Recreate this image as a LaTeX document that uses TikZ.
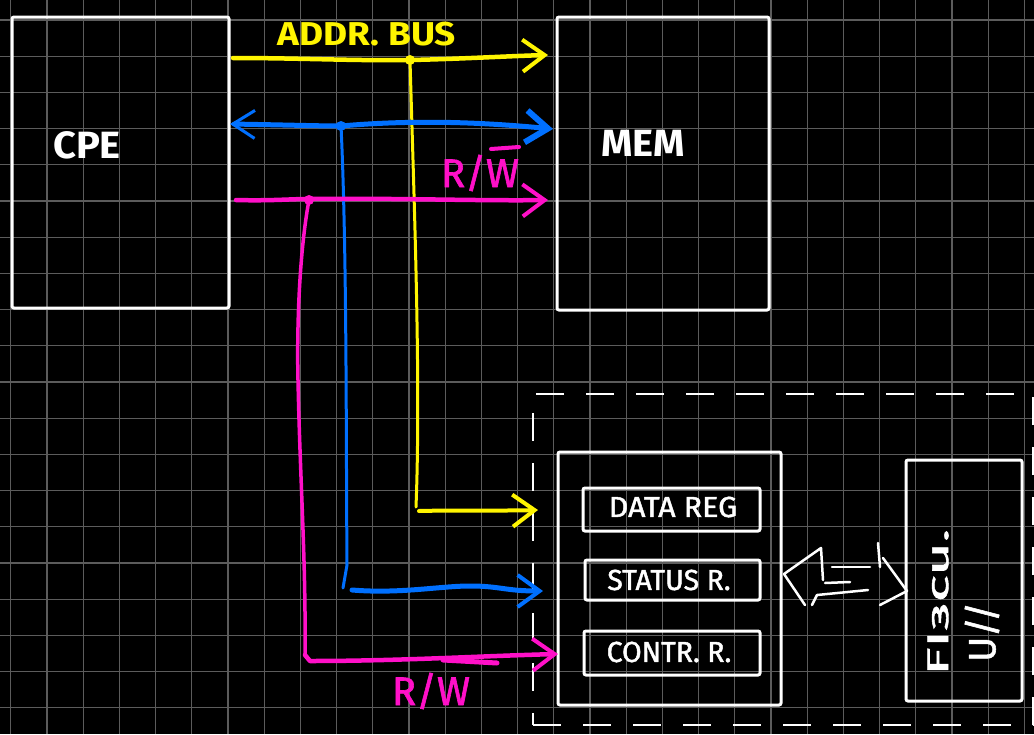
\documentclass[tikz,border=0pt]{standalone}
\usepackage{fontspec}
\setmainfont{Fira Sans}
\usetikzlibrary{arrows.meta,calc}
\definecolor{gridc}{RGB}{92,92,92}
\definecolor{ylw}{RGB}{255,245,0}
\definecolor{blu}{RGB}{0,112,255}
\definecolor{mag}{RGB}{255,16,200}
\tikzset{
  sbox/.style={draw=white,line width=3pt,rounded corners=2pt,inner sep=0pt,outer sep=0pt},
  dashbox/.style={draw=white,line width=2.5pt,dash pattern=on 28pt off 22pt,inner sep=0pt,outer sep=0pt},
  lbl/.style={text=#1,inner sep=0pt},
  lbl/.default=white,
  jdot/.style={circle,fill=#1,inner sep=0pt,minimum size=10pt},
  bus/.style={draw=#1,line cap=round,line join=round},
  chev/.style={-{Straight Barb[length=22pt,width=32pt,line width=4pt]}},
  chevb/.style={{Straight Barb[length=22pt,width=28pt,line width=3pt]}-{Straight Barb[length=22pt,width=32pt,line width=6pt]}},
  wline/.style={draw=white,line width=2.5pt,line cap=round,line join=round},
  gridline/.style={draw=gridc,line width=1.2pt}
}
\begin{document}
\begin{tikzpicture}[x=1pt,y=-1pt]
\fill[black] (0,0) rectangle (1034,734);
\useasboundingbox (0,0) rectangle (1034,734);
% grid
\foreach \i in {0,...,28} \draw[gridline] ({10.7+36.2*\i},0) -- ({10.7+36.2*\i},734);
\foreach \j in {0,...,19} \draw[gridline] (0,{20+36.2*\j}) -- (1034,{20+36.2*\j});

% boxes
\node[sbox,minimum width=217pt,minimum height=291pt] (cpe) at (120.5,162.5) {};
\node[sbox,minimum width=212pt,minimum height=293pt] (mem) at (663,163.5) {};
\node[dashbox,minimum width=500pt,minimum height=331pt] (iface) at (783,559.5) {};
\node[sbox,minimum width=223pt,minimum height=253pt] (ctrl) at (669.5,578.5) {};
\node[sbox,minimum width=177pt,minimum height=43pt] (dreg) at (671.5,509.5) {};
\node[sbox,minimum width=175pt,minimum height=40pt] (sreg) at (672.5,580) {};
\node[sbox,minimum width=176pt,minimum height=44pt] (creg) at (672,653) {};
\node[sbox,minimum width=116pt,minimum height=241pt] (dev) at (964,580.5) {};

% box texts
\node[lbl,font=\fontsize{38}{40}\bfseries] (tcpe) at (87,145) {\scalebox{1.05}[1]{CPE}};
\node[lbl,font=\fontsize{38}{40}\bfseries] (tmem) at (643,143) {\scalebox{1.05}[1]{MEM}};
\node[lbl,font=\fontsize{29}{30}\selectfont\addfontfeature{FakeBold=1.5}] (tdreg) at (673,507) {\scalebox{1.05}[1]{DATA REG}};
\node[lbl,font=\fontsize{29}{30}\selectfont\addfontfeature{FakeBold=1.5}] (tsreg) at (669,580) {\scalebox{0.98}[1]{STATUS R.}};
\node[lbl,font=\fontsize{29}{30}\selectfont\addfontfeature{FakeBold=1.5}] (tcreg) at (669,652) {\scalebox{0.98}[1]{CONTR. R.}};
\node[lbl,rotate=90,font=\fontsize{30}{32}\selectfont\addfontfeature{FakeBold=1.5}] (tdev1) at (938,602) {\scalebox{1.9}[1]{FIзcu.}};
\node[lbl,rotate=90,font=\fontsize{38}{40}\selectfont\addfontfeature{FakeBold=1.5}] (tdev2) at (982,632) {U//};

% address bus (yellow)
\coordinate (ya) at (233,58);
\coordinate (yb) at (548,55);
\draw[bus=ylw,line width=4.5pt,chev] (ya) .. controls (300,58) and (360,61) .. (410,60) .. controls (460,59) and (510,56) .. (yb);
\node[jdot=ylw] (yj) at (410,60) {};
\coordinate (yc) at (416,507);
\coordinate (yd) at (419,511);
\coordinate (ye) at (538,510);
\draw[bus=ylw,line width=3pt] (yj.center) .. controls (414,200) and (421,380) .. (yc);
\draw[bus=ylw,line width=4pt,chev] (yd) .. controls (460,510) and (500,511) .. (ye);
\node[lbl=ylw,font=\fontsize{33}{35}\bfseries] (taddr) at (367,34) {\scalebox{1.12}[1]{ADDR. BUS}};

% data bus (blue)
\coordinate (bl) at (230,124);
\coordinate (br) at (553,129);
\draw[bus=blu,line width=5pt,chevb] (bl) .. controls (290,125) and (320,126) .. (341,126) .. controls (420,119) and (490,123) .. (br);
\node[jdot=blu] (bj) at (341,126) {};
\coordinate (bc) at (343,588);
\coordinate (bd) at (352,590);
\coordinate (be) at (543,591);
\draw[bus=blu,line width=3pt] (bj.center) .. controls (347,250) and (346,450) .. (347,565) -- (bc);
\draw[bus=blu,line width=5pt,chev] (bd) .. controls (400,594) and (440,586) .. (470,586) .. controls (500,586) and (505,591) .. (be);

% control line (magenta)
\coordinate (ml) at (236,200);
\coordinate (mr) at (548,200);
\draw[bus=mag,line width=4.5pt,chev] (ml) .. controls (270,201) and (290,199) .. (309,199) .. controls (400,198) and (480,201) .. (mr);
\node[jdot=mag] (mj) at (309,200) {};
\coordinate (mc) at (305,655);
\coordinate (md) at (310,661);
\coordinate (me) at (558,654);
\draw[bus=mag,line width=3.5pt] (mj.center) .. controls (298,260) and (297,340) .. (298,380) .. controls (300,480) and (306,560) .. (mc);
\draw[bus=mag,line width=4.5pt,chev] (mc) -- (md) .. controls (400,661) and (480,656) .. (me);
\node[lbl=mag,font=\fontsize{40}{42}\selectfont\addfontfeature{FakeBold=1.5}] (trw1) at (480,173) {R/W};
\coordinate (ov3) at (491,149);
\coordinate (ov4) at (519,147);
\draw[bus=mag,line width=4pt] (ov3) -- (ov4);
\node[lbl=mag,font=\fontsize{40}{42}\selectfont\addfontfeature{FakeBold=1.5}] (trw2) at (431,691) {R/W};
\coordinate (ov1) at (443,660);
\coordinate (ov2) at (497,663);
\draw[bus=mag,line width=5pt] (ov1) -- (ov2);

% hollow double arrow between controller and device
\draw[wline] (805,605) -- (784,574) -- (821,548) -- (823,580);
\draw[wline] (832,567) -- (870,567);
\draw[wline] (825,583) -- (850,582);
\draw[wline] (812,605) -- (817,595) -- (868,590);
\draw[wline] (878,543) -- (880,567);
\draw[wline] (883,558) -- (907,591) -- (880,605);
\end{tikzpicture}
\end{document}
